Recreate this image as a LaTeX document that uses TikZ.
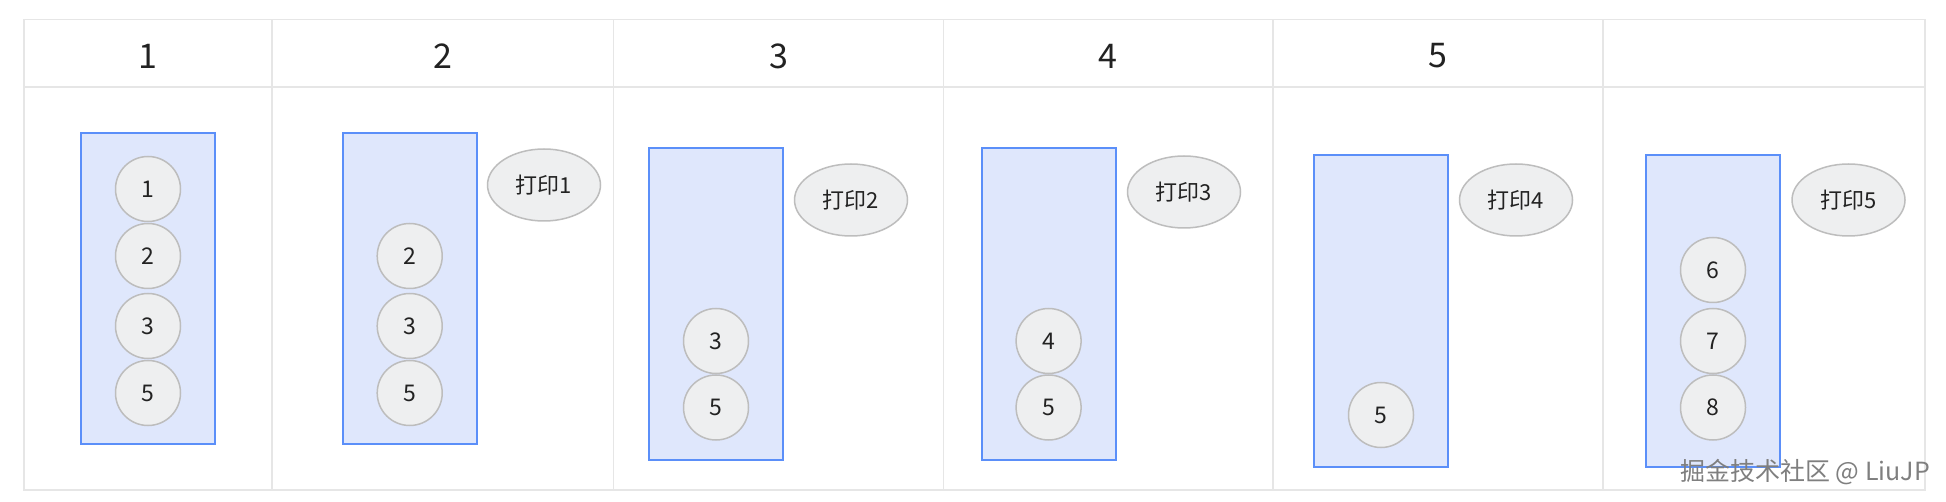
\documentclass[tikz,border=0pt]{standalone}
\usepackage{fontspec}
\setmainfont{Noto Sans CJK SC}
\usetikzlibrary{shapes.geometric}
\definecolor{gridline}{HTML}{E6E6E6}
\definecolor{boxfill}{HTML}{DFE7FC}
\definecolor{boxline}{HTML}{5B8FF9}
\definecolor{ballfill}{HTML}{EEEFF0}
\definecolor{ballline}{HTML}{BDBDBD}
\definecolor{txt}{HTML}{222222}
\definecolor{wm}{HTML}{7F7F7F}
\begin{document}
\begin{tikzpicture}[x=1pt,y=-1pt,
  grid/.style={draw=gridline,line width=1.5pt},
  stack/.style={rectangle,draw=boxline,fill=boxfill,line width=2pt,minimum width=134pt,minimum height=311pt,inner sep=0pt},
  ball/.style={circle,draw=ballline,fill=ballfill,line width=1.5pt,minimum size=65pt,inner sep=0pt,font=\fontsize{23}{23}\selectfont,text=txt},
  printed/.style={ellipse,draw=ballline,fill=ballfill,line width=1.5pt,minimum width=113pt,minimum height=72pt,inner sep=0pt,font=\fontsize{22}{22}\selectfont,text=txt},
  head/.style={font=\fontsize{34}{34}\selectfont,text=txt,inner sep=0pt}]
\path[use as bounding box,fill=white] (0,0) rectangle (1946,502);
% table grid
\draw[grid] (24,19.5) rectangle (1925,490);
\draw[grid] (24,87) -- (1925,87);
\foreach \x in {272,613.5,943.5,1273,1603}{\draw[grid] (\x,19.5) -- (\x,490);}
% headers
\node[head] (h1) at (148,56) {1};
\node[head] (h2) at (442.7,56) {2};
\node[head] (h3) at (778.5,56) {3};
\node[head] (h4) at (1108,56) {4};
\node[head] (h5) at (1438,56) {5};
% stacks
\node[stack] (s1) at (148,288.5) {};
\node[stack] (s2) at (409.7,288.5) {};
\node[stack] (s3) at (716,304) {};
\node[stack] (s4) at (1048.6,304) {};
\node[stack] (s5) at (1381,311) {};
\node[stack] (s6) at (1713,311) {};
% column 1
\node[ball] (a1) at (148,189) {1};
\node[ball] (a2) at (148,256) {2};
\node[ball] (a3) at (148,326) {3};
\node[ball] (a5) at (148,393) {5};
% column 2
\node[ball] (b2) at (409.7,256) {2};
\node[ball] (b3) at (409.7,326) {3};
\node[ball] (b5) at (409.7,393) {5};
\node[printed] (p1) at (544,185) {打印1};
% column 3
\node[ball] (c3) at (716,341) {3};
\node[ball] (c5) at (716,407.5) {5};
\node[printed] (p2) at (851,200) {打印2};
% column 4
\node[ball] (d4) at (1048.6,341) {4};
\node[ball] (d5) at (1048.6,407.5) {5};
\node[printed] (p3) at (1184,192) {打印3};
% column 5
\node[ball] (e5) at (1381,415) {5};
\node[printed] (p4) at (1516,200) {打印4};
% column 6
\node[ball] (f6) at (1713,270) {6};
\node[ball] (f7) at (1713,341) {7};
\node[ball] (f8) at (1713,407.5) {8};
\node[printed] (p5) at (1848.5,200) {打印5};
% watermark
\node[font=\fontsize{25}{25}\selectfont,text=wm,inner sep=0pt] (wmk) at (1805,472) {掘金技术社区 @ LiuJP};
\end{tikzpicture}
\end{document}
